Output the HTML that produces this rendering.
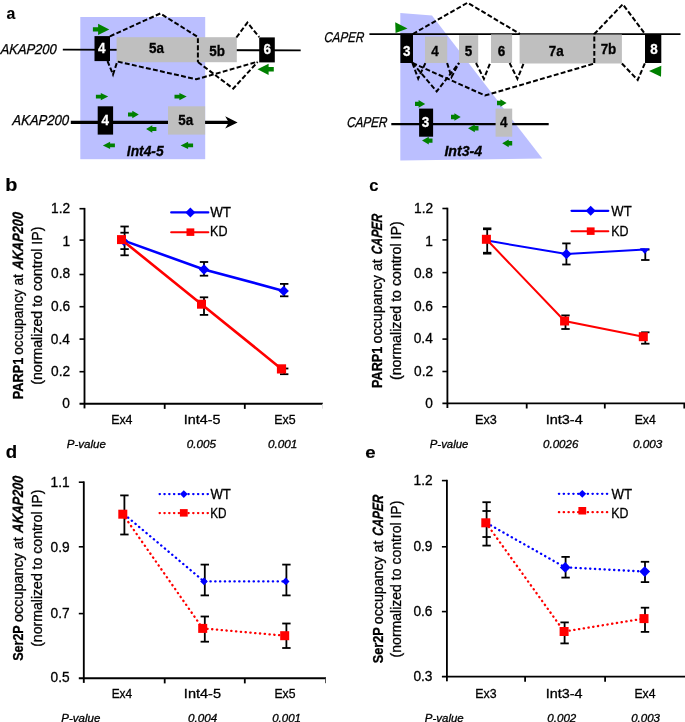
<!DOCTYPE html>
<html lang="en">
<head>
<meta charset="utf-8">
<title>PARP1 and Ser2P occupancy at AKAP200 and CAPER</title>
<style>
html,body{margin:0;padding:0;background:#fff;}
body{width:685px;height:722px;overflow:hidden;}
svg{display:block;}
text{font-family:"Liberation Sans", sans-serif;stroke:#000;stroke-width:0.3px;paint-order:stroke;}
text.w{stroke:#fff;}
text.pl{stroke-width:0.15px;}
</style>
</head>
<body>
<svg width="685" height="722" viewBox="0 0 685 722">
<rect x="0" y="0" width="685" height="722" fill="#fff"/>
<g id="panel-a-left">
<rect x="80.3" y="17.0" width="124.9" height="142.2" fill="#bbbfff"/>
<text x="6.61" y="19.10" font-size="16.4" font-weight="bold" class="pl" textLength="8.81" lengthAdjust="spacingAndGlyphs">a</text>
<text transform="translate(0.42,54.00) skewX(-3.6)" font-size="14.2" font-style="italic" textLength="55.95" lengthAdjust="spacingAndGlyphs">AKAP200</text>
<line x1="62.8" y1="49.6" x2="300.7" y2="50.4" stroke="#000" stroke-width="1.8"/>
<rect x="94.5" y="36.1" width="15.5" height="25.0" fill="#000"/>
<rect x="116.6" y="37.2" width="81.2" height="25.0" fill="#bfbfbf"/>
<rect x="197.8" y="37.2" width="39.0" height="25.0" fill="#bfbfbf"/>
<rect x="259.2" y="37.4" width="15.6" height="25.0" fill="#000"/>
<text x="97.89" y="53.00" font-size="14.3" font-weight="bold" fill="#fff" class="w" textLength="7.48" lengthAdjust="spacingAndGlyphs">4</text>
<text x="148.97" y="53.20" font-size="14.3" font-weight="bold" textLength="14.95" lengthAdjust="spacingAndGlyphs">5a</text>
<text x="209.22" y="55.50" font-size="14.3" font-weight="bold" textLength="15.69" lengthAdjust="spacingAndGlyphs">5b</text>
<text x="263.44" y="54.30" font-size="14.3" font-weight="bold" fill="#fff" class="w" textLength="7.48" lengthAdjust="spacingAndGlyphs">6</text>
<polyline points="109.9,36.3 160.3,13.5 197.9,37.0 197.9,62.0" fill="none" stroke="#000" stroke-width="2.0" stroke-dasharray="4.9 2.3" stroke-linejoin="miter"/>
<polyline points="236.4,37.5 247.4,22.6 259.2,37.0" fill="none" stroke="#000" stroke-width="2.0" stroke-dasharray="4.9 2.3" stroke-linejoin="miter"/>
<polyline points="107.5,61.0 113.0,74.5 117.3,61.5 196.4,79.3 257.6,61.7" fill="none" stroke="#000" stroke-width="2.0" stroke-dasharray="4.9 2.3" stroke-linejoin="miter"/>
<polyline points="197.9,62.0 233.2,88.6 257.6,62.0" fill="none" stroke="#000" stroke-width="2.0" stroke-dasharray="4.9 2.3" stroke-linejoin="miter"/>
<polygon points="92.9,27.2 98.1,27.2 98.1,23.8 109.3,29.4 98.1,35.0 98.1,31.6 92.9,31.6" fill="#008000"/>
<polygon points="273.8,67.1 268.6,67.1 268.6,63.7 257.5,69.3 268.6,74.9 268.6,71.5 273.8,71.5" fill="#008000"/>
<text transform="translate(12.30,124.80) skewX(-3.7)" font-size="14.4" font-style="italic" textLength="56.38" lengthAdjust="spacingAndGlyphs">AKAP200</text>
<line x1="70.8" y1="122.4" x2="229.0" y2="122.4" stroke="#000" stroke-width="3.3"/>
<polygon points="237.6,122.4 225.2,116.3 228.8,122.4 225.2,128.5" fill="#000"/>
<rect x="97.7" y="106.3" width="15.4" height="28.3" fill="#000"/>
<rect x="168.0" y="106.3" width="37.1" height="28.3" fill="#bfbfbf"/>
<text x="101.39" y="125.30" font-size="14.3" font-weight="bold" fill="#fff" class="w" textLength="7.48" lengthAdjust="spacingAndGlyphs">4</text>
<text x="178.27" y="125.30" font-size="14.3" font-weight="bold" textLength="14.95" lengthAdjust="spacingAndGlyphs">5a</text>
<polygon points="95.9,94.7 100.8,94.7 100.8,92.9 108.2,96.6 100.8,100.2 100.8,98.5 95.9,98.5" fill="#008000"/>
<polygon points="174.5,94.7 179.4,94.7 179.4,92.9 186.7,96.6 179.4,100.2 179.4,98.5 174.5,98.5" fill="#008000"/>
<polygon points="128.0,112.6 132.3,112.6 132.3,110.8 138.8,114.5 132.3,118.2 132.3,116.4 128.0,116.4" fill="#008000"/>
<polygon points="156.4,127.1 152.3,127.1 152.3,125.3 146.1,129.0 152.3,132.7 152.3,130.9 156.4,130.9" fill="#008000"/>
<polygon points="114.9,143.5 110.1,143.5 110.1,141.8 102.9,145.4 110.1,149.1 110.1,147.3 114.9,147.3" fill="#008000"/>
<polygon points="193.1,143.5 188.1,143.5 188.1,141.8 180.6,145.4 188.1,149.1 188.1,147.3 193.1,147.3" fill="#008000"/>
<text x="126.81" y="156.30" font-size="14.2" font-weight="bold" font-style="italic" textLength="36.80" lengthAdjust="spacingAndGlyphs">Int4-5</text>
</g>
<g id="panel-a-right">
<polygon points="400.3,13.1 432.0,15.6 542.3,158.6 400.3,160.4" fill="#bbbfff"/>
<text transform="translate(323.92,42.00) skewX(-4.8)" font-size="14.2" font-style="italic" textLength="39.86" lengthAdjust="spacingAndGlyphs">CAPER</text>
<line x1="369.4" y1="34.1" x2="680.5" y2="34.1" stroke="#000" stroke-width="1.7"/>
<rect x="400.4" y="33.6" width="12.6" height="29.4" fill="#000"/>
<rect x="425.0" y="36.6" width="22.2" height="26.4" fill="#bfbfbf"/>
<rect x="459.0" y="35.2" width="19.2" height="27.8" fill="#bfbfbf"/>
<rect x="491.0" y="34.4" width="21.1" height="28.6" fill="#bfbfbf"/>
<rect x="519.6" y="34.5" width="74.7" height="29.0" fill="#bfbfbf"/>
<rect x="594.3" y="34.5" width="27.6" height="29.0" fill="#bfbfbf"/>
<rect x="645.0" y="34.0" width="16.3" height="29.0" fill="#000"/>
<text x="403.03" y="55.50" font-size="14.3" font-weight="bold" fill="#fff" class="w" textLength="7.48" lengthAdjust="spacingAndGlyphs">3</text>
<text x="431.19" y="55.50" font-size="14.3" font-weight="bold" textLength="7.48" lengthAdjust="spacingAndGlyphs">4</text>
<text x="464.84" y="55.50" font-size="14.3" font-weight="bold" textLength="7.48" lengthAdjust="spacingAndGlyphs">5</text>
<text x="497.74" y="55.50" font-size="14.3" font-weight="bold" textLength="7.48" lengthAdjust="spacingAndGlyphs">6</text>
<text x="548.67" y="55.50" font-size="14.3" font-weight="bold" textLength="14.95" lengthAdjust="spacingAndGlyphs">7a</text>
<text x="600.63" y="53.50" font-size="14.3" font-weight="bold" textLength="15.69" lengthAdjust="spacingAndGlyphs">7b</text>
<text x="650.14" y="53.70" font-size="14.3" font-weight="bold" fill="#fff" class="w" textLength="7.48" lengthAdjust="spacingAndGlyphs">8</text>
<polyline points="412.8,34.0 467.6,2.7 520.0,34.0" fill="none" stroke="#000" stroke-width="2.0" stroke-dasharray="4.9 2.3" stroke-linejoin="miter"/>
<polyline points="594.3,63.0 594.3,34.0 622.8,4.2 645.0,34.0" fill="none" stroke="#000" stroke-width="2.0" stroke-dasharray="4.9 2.3" stroke-linejoin="miter"/>
<polyline points="621.9,63.5 637.7,80.0 645.0,63.0" fill="none" stroke="#000" stroke-width="2.0" stroke-dasharray="4.9 2.3" stroke-linejoin="miter"/>
<polyline points="412.4,63.0 418.2,78.6 425.4,63.0" fill="none" stroke="#000" stroke-width="2.0" stroke-dasharray="4.9 2.3" stroke-linejoin="miter"/>
<polyline points="412.4,63.0 436.7,91.4 459.0,63.0" fill="none" stroke="#000" stroke-width="2.0" stroke-dasharray="4.9 2.3" stroke-linejoin="miter"/>
<polyline points="447.1,63.0 451.5,77.0 459.0,63.0" fill="none" stroke="#000" stroke-width="2.0" stroke-dasharray="4.9 2.3" stroke-linejoin="miter"/>
<polyline points="412.4,63.0 485.0,95.5 594.3,63.5" fill="none" stroke="#000" stroke-width="2.0" stroke-dasharray="4.9 2.3" stroke-linejoin="miter"/>
<polyline points="476.0,63.0 483.9,78.8 490.2,63.0" fill="none" stroke="#000" stroke-width="2.0" stroke-dasharray="4.9 2.3" stroke-linejoin="miter"/>
<polyline points="509.6,63.0 517.4,78.8 523.8,63.0" fill="none" stroke="#000" stroke-width="2.0" stroke-dasharray="4.9 2.3" stroke-linejoin="miter"/>
<polygon points="395.2,22.3 407.5,28.5 395.6,33.0" fill="#008000"/>
<polygon points="661.3,65.7 649.0,71.0 661.0,76.7" fill="#008000"/>
<text transform="translate(346.72,126.60) skewX(-4.6)" font-size="14.2" font-style="italic" textLength="40.37" lengthAdjust="spacingAndGlyphs">CAPER</text>
<line x1="391.3" y1="124.1" x2="548.7" y2="124.1" stroke="#000" stroke-width="2.2"/>
<rect x="419.1" y="108.6" width="14.0" height="28.1" fill="#000"/>
<rect x="495.6" y="108.6" width="16.6" height="28.1" fill="#bfbfbf"/>
<text x="421.83" y="127.00" font-size="14.3" font-weight="bold" fill="#fff" class="w" textLength="7.48" lengthAdjust="spacingAndGlyphs">3</text>
<text x="499.89" y="127.00" font-size="14.3" font-weight="bold" textLength="7.48" lengthAdjust="spacingAndGlyphs">4</text>
<polygon points="415.0,101.7 418.6,101.7 418.6,100.1 425.2,103.9 418.6,107.8 418.6,106.1 415.0,106.1" fill="#008000"/>
<polygon points="497.0,100.8 500.4,100.8 500.4,99.2 506.6,103.0 500.4,106.8 500.4,105.2 497.0,105.2" fill="#008000"/>
<polygon points="451.0,114.8 454.4,114.8 454.4,113.2 460.7,117.0 454.4,120.8 454.4,119.2 451.0,119.2" fill="#008000"/>
<polygon points="478.5,126.1 474.8,126.1 474.8,124.5 468.0,128.3 474.8,132.2 474.8,130.5 478.5,130.5" fill="#008000"/>
<polygon points="432.5,138.4 428.8,138.4 428.8,136.8 422.0,140.6 428.8,144.4 428.8,142.8 432.5,142.8" fill="#008000"/>
<polygon points="512.2,141.1 508.7,141.1 508.7,139.5 502.2,143.3 508.7,147.2 508.7,145.5 512.2,145.5" fill="#008000"/>
<text x="444.40" y="156.10" font-size="14.0" font-weight="bold" font-style="italic" textLength="37.79" lengthAdjust="spacingAndGlyphs">Int3-4</text>
</g>
<g id="panel-b">
<text x="5.25" y="190.90" font-size="17.5" font-weight="bold" class="pl" textLength="12.13" lengthAdjust="spacingAndGlyphs">b</text>
<line x1="84.5" y1="207.9" x2="84.5" y2="408.4" stroke="#000" stroke-width="1.85"/>
<line x1="79.5" y1="403.7" x2="323.0" y2="403.7" stroke="#000" stroke-width="1.85"/>
<line x1="79.5" y1="208.7" x2="84.5" y2="208.7" stroke="#000" stroke-width="1.6"/>
<text x="51.10" y="213.30" font-size="14" textLength="19.07" lengthAdjust="spacingAndGlyphs">1.2</text>
<line x1="79.5" y1="240.1" x2="84.5" y2="240.1" stroke="#000" stroke-width="1.6"/>
<text x="62.44" y="245.90" font-size="14" textLength="7.63" lengthAdjust="spacingAndGlyphs">1</text>
<line x1="79.5" y1="274.5" x2="84.5" y2="274.5" stroke="#000" stroke-width="1.6"/>
<text x="51.00" y="278.00" font-size="14" textLength="19.07" lengthAdjust="spacingAndGlyphs">0.8</text>
<line x1="79.5" y1="306.7" x2="84.5" y2="306.7" stroke="#000" stroke-width="1.6"/>
<text x="51.00" y="310.70" font-size="14" textLength="19.07" lengthAdjust="spacingAndGlyphs">0.6</text>
<line x1="79.5" y1="339.1" x2="84.5" y2="339.1" stroke="#000" stroke-width="1.6"/>
<text x="50.81" y="343.50" font-size="14" textLength="19.07" lengthAdjust="spacingAndGlyphs">0.4</text>
<line x1="79.5" y1="371.7" x2="84.5" y2="371.7" stroke="#000" stroke-width="1.6"/>
<text x="51.10" y="375.90" font-size="14" textLength="19.07" lengthAdjust="spacingAndGlyphs">0.2</text>
<text x="62.35" y="408.20" font-size="14" textLength="7.63" lengthAdjust="spacingAndGlyphs">0</text>
<line x1="164.7" y1="403.7" x2="164.7" y2="408.9" stroke="#000" stroke-width="1.8"/>
<line x1="244.8" y1="403.7" x2="244.8" y2="408.9" stroke="#000" stroke-width="1.8"/>
<line x1="322.5" y1="403.7" x2="322.5" y2="408.7" stroke="#ddd" stroke-width="0.9"/>
<text x="111.15" y="423.60" font-size="13" textLength="21.37" lengthAdjust="spacingAndGlyphs">Ex4</text>
<text x="183.87" y="423.60" font-size="13" textLength="36.71" lengthAdjust="spacingAndGlyphs">Int4-5</text>
<text x="274.35" y="423.60" font-size="13" textLength="21.36" lengthAdjust="spacingAndGlyphs">Ex5</text>
<text transform="translate(23.00,399.35) rotate(-90)" font-size="15" font-weight="bold" textLength="41.64" lengthAdjust="spacingAndGlyphs">PARP1</text>
<text transform="translate(23.00,354.80) rotate(-90)" font-size="13.8" textLength="80.63" lengthAdjust="spacingAndGlyphs">occupancy at</text>
<text transform="translate(23.00,269.76) rotate(-90) skewX(-4.3)" font-size="15" font-weight="bold" font-style="italic" textLength="57.28" lengthAdjust="spacingAndGlyphs">AKAP200</text>
<text transform="translate(42.00,384.72) rotate(-90)" font-size="13.8" textLength="158.14" lengthAdjust="spacingAndGlyphs">(normalized to control IP)</text>
<text x="66.69" y="447.80" font-size="11" font-style="italic" textLength="39.15" lengthAdjust="spacingAndGlyphs">P-value</text>
<text x="186.78" y="447.80" font-size="11" font-style="italic" textLength="29.14" lengthAdjust="spacingAndGlyphs">0.005</text>
<text x="268.07" y="447.80" font-size="11" font-style="italic" textLength="29.30" lengthAdjust="spacingAndGlyphs">0.001</text>
<line x1="171.2" y1="212.4" x2="208.3" y2="212.4" stroke="#0000ff" stroke-width="2.2" stroke-linecap="round"/>
<polygon points="185.4,212.4 190.4,207.4 195.4,212.4 190.4,217.4" fill="#0000ff"/>
<text x="210.20" y="217.30" font-size="14.2" textLength="20.86" lengthAdjust="spacingAndGlyphs">WT</text>
<line x1="171.2" y1="232.2" x2="208.3" y2="232.2" stroke="#ff0000" stroke-width="2.1" stroke-linecap="round"/>
<rect x="186.5" y="228.4" width="7.8" height="7.5" fill="#ff0000"/>
<text x="210.03" y="236.20" font-size="14.2" textLength="17.45" lengthAdjust="spacingAndGlyphs">KD</text>
<line x1="124.6" y1="226.5" x2="124.6" y2="255.3" stroke="#000" stroke-width="1.8"/>
<line x1="120.4" y1="226.5" x2="128.8" y2="226.5" stroke="#000" stroke-width="1.8"/>
<line x1="120.4" y1="232.7" x2="128.8" y2="232.7" stroke="#000" stroke-width="1.8"/>
<line x1="120.4" y1="249.1" x2="128.8" y2="249.1" stroke="#000" stroke-width="1.8"/>
<line x1="120.4" y1="255.3" x2="128.8" y2="255.3" stroke="#000" stroke-width="1.8"/>
<line x1="204.0" y1="262.0" x2="204.0" y2="275.7" stroke="#000" stroke-width="1.8"/>
<line x1="199.8" y1="262.0" x2="208.2" y2="262.0" stroke="#000" stroke-width="1.8"/>
<line x1="199.8" y1="275.7" x2="208.2" y2="275.7" stroke="#000" stroke-width="1.8"/>
<line x1="204.0" y1="297.3" x2="204.0" y2="314.9" stroke="#000" stroke-width="1.8"/>
<line x1="199.8" y1="297.3" x2="208.2" y2="297.3" stroke="#000" stroke-width="1.8"/>
<line x1="199.8" y1="314.9" x2="208.2" y2="314.9" stroke="#000" stroke-width="1.8"/>
<line x1="284.2" y1="283.9" x2="284.2" y2="296.3" stroke="#000" stroke-width="1.8"/>
<line x1="280.0" y1="283.9" x2="288.4" y2="283.9" stroke="#000" stroke-width="1.8"/>
<line x1="280.0" y1="296.3" x2="288.4" y2="296.3" stroke="#000" stroke-width="1.8"/>
<line x1="284.2" y1="368.5" x2="284.2" y2="374.2" stroke="#000" stroke-width="1.8"/>
<line x1="280.0" y1="368.5" x2="288.4" y2="368.5" stroke="#000" stroke-width="1.8"/>
<line x1="280.0" y1="374.2" x2="288.4" y2="374.2" stroke="#000" stroke-width="1.8"/>
<polygon points="119.2,241.2 123.9,236.5 128.6,241.2 123.9,245.9" fill="#0000ff"/>
<polyline points="124.6,240.9 204.0,269.5 283.7,290.9" fill="none" stroke="#0000ff" stroke-width="2.6"/>
<polyline points="121.6,239.7 201.5,304.2 281.5,368.9" fill="none" stroke="#ff0000" stroke-width="2.6"/>
<polygon points="198.8,269.5 204.0,264.3 209.2,269.5 204.0,274.7" fill="#0000ff"/>
<polygon points="278.5,290.9 283.7,285.7 288.9,290.9 283.7,296.1" fill="#0000ff"/>
<rect x="117.0" y="235.1" width="9.0" height="9.0" fill="#ff0000"/>
<rect x="197.0" y="299.7" width="9.0" height="9.0" fill="#ff0000"/>
<rect x="276.9" y="364.3" width="9.2" height="9.2" fill="#ff0000"/>
</g>
<g id="panel-c">
<text x="369.19" y="190.90" font-size="16.4" font-weight="bold" class="pl" textLength="9.23" lengthAdjust="spacingAndGlyphs">c</text>
<line x1="447.4" y1="207.7" x2="447.4" y2="408.0" stroke="#000" stroke-width="1.85"/>
<line x1="442.4" y1="403.3" x2="685.0" y2="403.3" stroke="#000" stroke-width="1.85"/>
<line x1="442.4" y1="208.5" x2="447.4" y2="208.5" stroke="#000" stroke-width="1.6"/>
<text x="414.00" y="213.00" font-size="14" textLength="19.07" lengthAdjust="spacingAndGlyphs">1.2</text>
<line x1="442.4" y1="239.9" x2="447.4" y2="239.9" stroke="#000" stroke-width="1.6"/>
<text x="425.34" y="245.90" font-size="14" textLength="7.63" lengthAdjust="spacingAndGlyphs">1</text>
<line x1="442.4" y1="272.6" x2="447.4" y2="272.6" stroke="#000" stroke-width="1.6"/>
<text x="413.90" y="277.80" font-size="14" textLength="19.07" lengthAdjust="spacingAndGlyphs">0.8</text>
<line x1="442.4" y1="306.8" x2="447.4" y2="306.8" stroke="#000" stroke-width="1.6"/>
<text x="413.90" y="310.90" font-size="14" textLength="19.07" lengthAdjust="spacingAndGlyphs">0.6</text>
<line x1="442.4" y1="339.1" x2="447.4" y2="339.1" stroke="#000" stroke-width="1.6"/>
<text x="413.71" y="343.10" font-size="14" textLength="19.07" lengthAdjust="spacingAndGlyphs">0.4</text>
<line x1="442.4" y1="371.5" x2="447.4" y2="371.5" stroke="#000" stroke-width="1.6"/>
<text x="414.00" y="375.50" font-size="14" textLength="19.07" lengthAdjust="spacingAndGlyphs">0.2</text>
<text x="425.25" y="408.00" font-size="14" textLength="7.63" lengthAdjust="spacingAndGlyphs">0</text>
<line x1="526.7" y1="403.3" x2="526.7" y2="408.5" stroke="#000" stroke-width="1.8"/>
<line x1="604.8" y1="403.3" x2="604.8" y2="408.5" stroke="#000" stroke-width="1.8"/>
<line x1="684.3" y1="403.3" x2="684.3" y2="408.5" stroke="#000" stroke-width="1.8"/>
<text x="475.03" y="423.90" font-size="13" textLength="21.79" lengthAdjust="spacingAndGlyphs">Ex3</text>
<text x="545.66" y="423.90" font-size="13" textLength="37.11" lengthAdjust="spacingAndGlyphs">Int3-4</text>
<text x="634.66" y="423.90" font-size="13" textLength="21.16" lengthAdjust="spacingAndGlyphs">Ex4</text>
<text transform="translate(382.10,387.94) rotate(-90)" font-size="15" font-weight="bold" textLength="41.23" lengthAdjust="spacingAndGlyphs">PARP1</text>
<text transform="translate(382.10,343.50) rotate(-90)" font-size="13.8" textLength="84.33" lengthAdjust="spacingAndGlyphs">occupancy  at</text>
<text transform="translate(382.10,254.73) rotate(-90) skewX(-5.3)" font-size="15" font-weight="bold" font-style="italic" textLength="40.36" lengthAdjust="spacingAndGlyphs">CAPER</text>
<text transform="translate(400.80,380.02) rotate(-90)" font-size="13.8" textLength="158.74" lengthAdjust="spacingAndGlyphs">(normalized to control IP)</text>
<text x="429.79" y="448.20" font-size="11" font-style="italic" textLength="38.54" lengthAdjust="spacingAndGlyphs">P-value</text>
<text x="543.08" y="448.20" font-size="11" font-style="italic" textLength="35.23" lengthAdjust="spacingAndGlyphs">0.0026</text>
<text x="632.97" y="448.20" font-size="11" font-style="italic" textLength="29.35" lengthAdjust="spacingAndGlyphs">0.003</text>
<line x1="571.5" y1="210.8" x2="608.3" y2="210.8" stroke="#0000ff" stroke-width="2.2" stroke-linecap="round"/>
<polygon points="585.7,210.8 590.7,205.8 595.7,210.8 590.7,215.8" fill="#0000ff"/>
<text x="611.30" y="216.20" font-size="14.2" textLength="20.35" lengthAdjust="spacingAndGlyphs">WT</text>
<line x1="571.5" y1="231.2" x2="608.3" y2="231.2" stroke="#ff0000" stroke-width="2.1" stroke-linecap="round"/>
<rect x="586.8" y="227.4" width="7.8" height="7.5" fill="#ff0000"/>
<text x="611.13" y="236.40" font-size="14.2" textLength="17.34" lengthAdjust="spacingAndGlyphs">KD</text>
<line x1="487.2" y1="228.8" x2="487.2" y2="253.2" stroke="#000" stroke-width="1.8"/>
<line x1="483.0" y1="228.8" x2="491.4" y2="228.8" stroke="#000" stroke-width="2.7"/>
<line x1="483.0" y1="253.2" x2="491.4" y2="253.2" stroke="#000" stroke-width="2.7"/>
<line x1="566.4" y1="243.4" x2="566.4" y2="264.5" stroke="#000" stroke-width="1.8"/>
<line x1="562.2" y1="243.4" x2="570.6" y2="243.4" stroke="#000" stroke-width="1.8"/>
<line x1="562.2" y1="264.5" x2="570.6" y2="264.5" stroke="#000" stroke-width="1.8"/>
<line x1="645.3" y1="249.6" x2="645.3" y2="260.0" stroke="#000" stroke-width="1.8"/>
<line x1="641.1" y1="249.6" x2="649.5" y2="249.6" stroke="#000" stroke-width="1.8"/>
<line x1="641.1" y1="260.0" x2="649.5" y2="260.0" stroke="#000" stroke-width="1.8"/>
<line x1="565.5" y1="315.4" x2="565.5" y2="329.0" stroke="#000" stroke-width="1.8"/>
<line x1="561.3" y1="315.4" x2="569.7" y2="315.4" stroke="#000" stroke-width="1.8"/>
<line x1="561.3" y1="329.0" x2="569.7" y2="329.0" stroke="#000" stroke-width="1.8"/>
<line x1="645.3" y1="332.3" x2="645.3" y2="343.7" stroke="#000" stroke-width="1.8"/>
<line x1="641.1" y1="332.3" x2="649.5" y2="332.3" stroke="#000" stroke-width="1.8"/>
<line x1="641.1" y1="343.7" x2="649.5" y2="343.7" stroke="#000" stroke-width="1.8"/>
<polyline points="487.0,240.6 566.4,254.1 644.8,249.4" fill="none" stroke="#0000ff" stroke-width="2.0"/>
<polyline points="486.4,239.3 564.6,321.0 643.3,336.7" fill="none" stroke="#ff0000" stroke-width="2.0"/>
<polygon points="561.2,254.1 566.4,248.9 571.6,254.1 566.4,259.3" fill="#0000ff"/>
<polygon points="639.8,248.2 649.6,248.2 644.8,254.0" fill="#0000ff"/>
<rect x="481.9" y="234.8" width="9.0" height="9.0" fill="#ff0000"/>
<rect x="560.1" y="316.5" width="9.0" height="9.0" fill="#ff0000"/>
<rect x="638.8" y="332.2" width="9.0" height="9.0" fill="#ff0000"/>
</g>
<g id="panel-d">
<text x="5.75" y="457.80" font-size="17.5" font-weight="bold" class="pl" textLength="11.41" lengthAdjust="spacingAndGlyphs">d</text>
<line x1="83.8" y1="481.4" x2="83.8" y2="682.9" stroke="#000" stroke-width="1.85"/>
<line x1="78.8" y1="678.2" x2="326.0" y2="678.2" stroke="#000" stroke-width="1.85"/>
<line x1="78.8" y1="482.2" x2="83.8" y2="482.2" stroke="#000" stroke-width="1.6"/>
<text x="50.50" y="486.80" font-size="14" textLength="19.07" lengthAdjust="spacingAndGlyphs">1.1</text>
<line x1="78.8" y1="546.8" x2="83.8" y2="546.8" stroke="#000" stroke-width="1.6"/>
<text x="50.50" y="552.30" font-size="14" textLength="19.07" lengthAdjust="spacingAndGlyphs">0.9</text>
<line x1="78.8" y1="613.6" x2="83.8" y2="613.6" stroke="#000" stroke-width="1.6"/>
<text x="50.60" y="617.70" font-size="14" textLength="19.07" lengthAdjust="spacingAndGlyphs">0.7</text>
<text x="50.50" y="682.40" font-size="14" textLength="19.07" lengthAdjust="spacingAndGlyphs">0.5</text>
<line x1="164.7" y1="678.2" x2="164.7" y2="683.4" stroke="#000" stroke-width="1.8"/>
<line x1="244.8" y1="678.2" x2="244.8" y2="683.4" stroke="#000" stroke-width="1.8"/>
<line x1="325.5" y1="678.2" x2="325.5" y2="683.2" stroke="#444" stroke-width="0.9"/>
<text x="111.68" y="697.90" font-size="13" textLength="20.52" lengthAdjust="spacingAndGlyphs">Ex4</text>
<text x="183.86" y="697.90" font-size="13" textLength="37.13" lengthAdjust="spacingAndGlyphs">Int4-5</text>
<text x="274.46" y="697.90" font-size="13" textLength="21.04" lengthAdjust="spacingAndGlyphs">Ex5</text>
<text transform="translate(22.80,660.83) rotate(-90)" font-size="15" font-weight="bold" textLength="35.56" lengthAdjust="spacingAndGlyphs">Ser2P</text>
<text transform="translate(22.80,621.90) rotate(-90)" font-size="13.8" textLength="84.63" lengthAdjust="spacingAndGlyphs">occupancy  at</text>
<text transform="translate(22.80,532.97) rotate(-90) skewX(-4.4)" font-size="15" font-weight="bold" font-style="italic" textLength="56.78" lengthAdjust="spacingAndGlyphs">AKAP200</text>
<text transform="translate(42.30,646.82) rotate(-90)" font-size="13.8" textLength="157.23" lengthAdjust="spacingAndGlyphs">(normalized to control IP)</text>
<text x="61.29" y="721.60" font-size="11" font-style="italic" textLength="39.05" lengthAdjust="spacingAndGlyphs">P-value</text>
<text x="187.98" y="721.60" font-size="11" font-style="italic" textLength="29.16" lengthAdjust="spacingAndGlyphs">0.004</text>
<text x="272.18" y="721.60" font-size="11" font-style="italic" textLength="28.78" lengthAdjust="spacingAndGlyphs">0.001</text>
<line x1="159.6" y1="494.1" x2="208.0" y2="494.1" stroke="#0000ff" stroke-width="2.3" stroke-dasharray="0.3 4.5" stroke-linecap="round"/>
<polygon points="179.9,494.1 183.8,490.2 187.7,494.1 183.8,498.0" fill="#0000ff"/>
<text x="210.40" y="499.10" font-size="13.8" textLength="20.52" lengthAdjust="spacingAndGlyphs">WT</text>
<line x1="159.6" y1="513.1" x2="208.0" y2="513.1" stroke="#ff0000" stroke-width="2.3" stroke-dasharray="0.3 4.5" stroke-linecap="round"/>
<rect x="179.9" y="509.1" width="7.8" height="7.5" fill="#ff0000"/>
<text x="210.26" y="518.20" font-size="13.8" textLength="16.32" lengthAdjust="spacingAndGlyphs">KD</text>
<line x1="124.4" y1="495.4" x2="124.4" y2="534.5" stroke="#000" stroke-width="1.8"/>
<line x1="120.2" y1="495.4" x2="128.6" y2="495.4" stroke="#000" stroke-width="1.8"/>
<line x1="120.2" y1="534.5" x2="128.6" y2="534.5" stroke="#000" stroke-width="1.8"/>
<line x1="204.8" y1="564.6" x2="204.8" y2="595.4" stroke="#000" stroke-width="1.8"/>
<line x1="200.6" y1="564.6" x2="209.0" y2="564.6" stroke="#000" stroke-width="1.8"/>
<line x1="200.6" y1="595.4" x2="209.0" y2="595.4" stroke="#000" stroke-width="1.8"/>
<line x1="286.4" y1="564.6" x2="286.4" y2="595.4" stroke="#000" stroke-width="1.8"/>
<line x1="282.2" y1="564.6" x2="290.6" y2="564.6" stroke="#000" stroke-width="1.8"/>
<line x1="282.2" y1="595.4" x2="290.6" y2="595.4" stroke="#000" stroke-width="1.8"/>
<line x1="204.8" y1="616.5" x2="204.8" y2="641.7" stroke="#000" stroke-width="1.8"/>
<line x1="200.6" y1="616.5" x2="209.0" y2="616.5" stroke="#000" stroke-width="1.8"/>
<line x1="200.6" y1="641.7" x2="209.0" y2="641.7" stroke="#000" stroke-width="1.8"/>
<line x1="286.4" y1="623.5" x2="286.4" y2="648.0" stroke="#000" stroke-width="1.8"/>
<line x1="282.2" y1="623.5" x2="290.6" y2="623.5" stroke="#000" stroke-width="1.8"/>
<line x1="282.2" y1="648.0" x2="290.6" y2="648.0" stroke="#000" stroke-width="1.8"/>
<polyline points="124.4,514.5 204.0,581.4 285.7,581.4" fill="none" stroke="#0000ff" stroke-width="2.3" stroke-dasharray="0.3 4.5" stroke-linecap="round"/>
<polyline points="122.8,514.2 202.7,628.4 284.7,635.7" fill="none" stroke="#ff0000" stroke-width="2.3" stroke-dasharray="0.3 4.5" stroke-linecap="round"/>
<polygon points="200.2,581.4 204.0,577.6 207.8,581.4 204.0,585.2" fill="#0000ff"/>
<polygon points="281.9,581.4 285.7,577.6 289.5,581.4 285.7,585.2" fill="#0000ff"/>
<rect x="118.3" y="509.7" width="9.0" height="9.0" fill="#ff0000"/>
<rect x="198.2" y="623.9" width="9.0" height="9.0" fill="#ff0000"/>
<rect x="280.2" y="631.2" width="9.0" height="9.0" fill="#ff0000"/>
</g>
<g id="panel-e">
<text x="365.32" y="458.00" font-size="16.4" font-weight="bold" class="pl" textLength="10.38" lengthAdjust="spacingAndGlyphs">e</text>
<line x1="446.9" y1="479.8" x2="446.9" y2="681.3" stroke="#000" stroke-width="1.85"/>
<line x1="441.9" y1="676.6" x2="685.0" y2="676.6" stroke="#000" stroke-width="1.85"/>
<line x1="441.9" y1="480.6" x2="446.9" y2="480.6" stroke="#000" stroke-width="1.6"/>
<text x="413.50" y="484.90" font-size="14" textLength="19.07" lengthAdjust="spacingAndGlyphs">1.2</text>
<line x1="441.9" y1="546.8" x2="446.9" y2="546.8" stroke="#000" stroke-width="1.6"/>
<text x="413.40" y="550.50" font-size="14" textLength="19.07" lengthAdjust="spacingAndGlyphs">0.9</text>
<line x1="441.9" y1="611.6" x2="446.9" y2="611.6" stroke="#000" stroke-width="1.6"/>
<text x="413.40" y="615.70" font-size="14" textLength="19.07" lengthAdjust="spacingAndGlyphs">0.6</text>
<text x="413.40" y="680.90" font-size="14" textLength="19.07" lengthAdjust="spacingAndGlyphs">0.3</text>
<line x1="525.1" y1="676.6" x2="525.1" y2="681.8" stroke="#000" stroke-width="1.8"/>
<line x1="605.1" y1="676.6" x2="605.1" y2="681.8" stroke="#000" stroke-width="1.8"/>
<text x="475.25" y="697.90" font-size="13" textLength="21.25" lengthAdjust="spacingAndGlyphs">Ex3</text>
<text x="545.77" y="697.90" font-size="13" textLength="36.79" lengthAdjust="spacingAndGlyphs">Int3-4</text>
<text x="634.46" y="697.90" font-size="13" textLength="21.05" lengthAdjust="spacingAndGlyphs">Ex4</text>
<text transform="translate(382.50,663.24) rotate(-90)" font-size="15" font-weight="bold" textLength="36.07" lengthAdjust="spacingAndGlyphs">Ser2P</text>
<text transform="translate(382.50,624.19) rotate(-90)" font-size="13.8" textLength="83.62" lengthAdjust="spacingAndGlyphs">occupancy  at</text>
<text transform="translate(382.50,536.32) rotate(-90) skewX(-5.2)" font-size="15" font-weight="bold" font-style="italic" textLength="40.97" lengthAdjust="spacingAndGlyphs">CAPER</text>
<text transform="translate(400.80,657.41) rotate(-90)" font-size="13.8" textLength="156.82" lengthAdjust="spacingAndGlyphs">(normalized to control IP)</text>
<text x="424.89" y="721.70" font-size="11" font-style="italic" textLength="38.84" lengthAdjust="spacingAndGlyphs">P-value</text>
<text x="547.28" y="721.70" font-size="11" font-style="italic" textLength="29.05" lengthAdjust="spacingAndGlyphs">0.002</text>
<text x="631.18" y="721.70" font-size="11" font-style="italic" textLength="28.84" lengthAdjust="spacingAndGlyphs">0.003</text>
<line x1="558.9" y1="493.8" x2="608.4" y2="493.8" stroke="#0000ff" stroke-width="2.3" stroke-dasharray="0.3 4.5" stroke-linecap="round"/>
<polygon points="578.4,493.8 582.3,489.9 586.2,493.8 582.3,497.7" fill="#0000ff"/>
<text x="611.40" y="499.10" font-size="13.8" textLength="20.62" lengthAdjust="spacingAndGlyphs">WT</text>
<line x1="558.9" y1="512.2" x2="608.4" y2="512.2" stroke="#ff0000" stroke-width="2.3" stroke-dasharray="0.3 4.5" stroke-linecap="round"/>
<rect x="578.4" y="507.0" width="7.8" height="7.5" fill="#ff0000"/>
<text x="611.21" y="518.30" font-size="13.8" textLength="17.19" lengthAdjust="spacingAndGlyphs">KD</text>
<line x1="486.6" y1="502.2" x2="486.6" y2="545.6" stroke="#000" stroke-width="1.8"/>
<line x1="482.4" y1="502.2" x2="490.8" y2="502.2" stroke="#000" stroke-width="1.8"/>
<line x1="482.4" y1="511.0" x2="490.8" y2="511.0" stroke="#000" stroke-width="1.8"/>
<line x1="482.4" y1="537.0" x2="490.8" y2="537.0" stroke="#000" stroke-width="1.8"/>
<line x1="482.4" y1="545.6" x2="490.8" y2="545.6" stroke="#000" stroke-width="1.8"/>
<line x1="565.6" y1="556.9" x2="565.6" y2="577.6" stroke="#000" stroke-width="1.8"/>
<line x1="561.4" y1="556.9" x2="569.8" y2="556.9" stroke="#000" stroke-width="1.8"/>
<line x1="561.4" y1="577.6" x2="569.8" y2="577.6" stroke="#000" stroke-width="1.8"/>
<line x1="645.0" y1="561.8" x2="645.0" y2="582.1" stroke="#000" stroke-width="1.8"/>
<line x1="640.8" y1="561.8" x2="649.2" y2="561.8" stroke="#000" stroke-width="1.8"/>
<line x1="640.8" y1="582.1" x2="649.2" y2="582.1" stroke="#000" stroke-width="1.8"/>
<line x1="564.6" y1="622.4" x2="564.6" y2="643.4" stroke="#000" stroke-width="1.8"/>
<line x1="560.4" y1="622.4" x2="568.8" y2="622.4" stroke="#000" stroke-width="1.8"/>
<line x1="560.4" y1="643.4" x2="568.8" y2="643.4" stroke="#000" stroke-width="1.8"/>
<line x1="645.0" y1="607.7" x2="645.0" y2="631.9" stroke="#000" stroke-width="1.8"/>
<line x1="640.8" y1="607.7" x2="649.2" y2="607.7" stroke="#000" stroke-width="1.8"/>
<line x1="640.8" y1="631.9" x2="649.2" y2="631.9" stroke="#000" stroke-width="1.8"/>
<polyline points="486.6,523.0 565.2,567.4 644.7,571.6" fill="none" stroke="#0000ff" stroke-width="2.3" stroke-dasharray="0.3 4.5" stroke-linecap="round"/>
<polyline points="486.0,522.9 564.1,631.5 644.0,618.6" fill="none" stroke="#ff0000" stroke-width="2.3" stroke-dasharray="0.3 4.5" stroke-linecap="round"/>
<polygon points="559.8,567.4 565.2,562.0 570.6,567.4 565.2,572.8" fill="#0000ff"/>
<polygon points="639.3,571.6 644.7,566.2 650.1,571.6 644.7,577.0" fill="#0000ff"/>
<rect x="481.3" y="518.3" width="9.0" height="9.0" fill="#ff0000"/>
<rect x="559.6" y="627.0" width="9.0" height="9.0" fill="#ff0000"/>
<rect x="639.5" y="614.1" width="9.0" height="9.0" fill="#ff0000"/>
</g>
</svg>
</body>
</html>
